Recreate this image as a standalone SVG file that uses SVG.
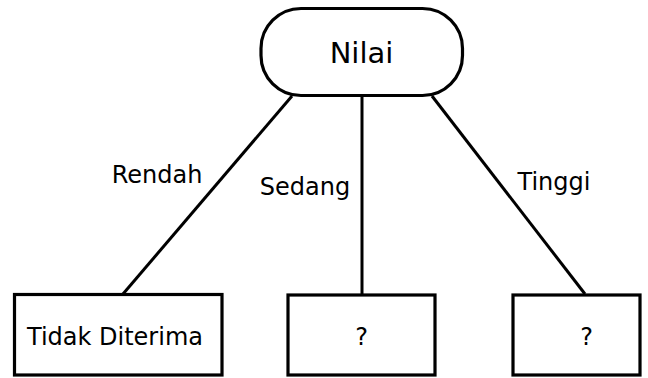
<svg xmlns="http://www.w3.org/2000/svg" width="648" height="378" viewBox="0 0 648 378">
<style>
.shape{fill:#fff;stroke:#000;stroke-width:3.2}
.edge{stroke:#000;stroke-width:3;fill:none}
text{font-family:"DejaVu Sans","Liberation Sans",sans-serif;fill:#000;text-anchor:middle}
.lbl{font-size:24px}
</style>
<rect width="648" height="378" fill="#fff"/>
<g id="connectors">
<line class="edge" x1="292" y1="96" x2="123" y2="294"/>
<line class="edge" x1="362" y1="96" x2="362" y2="294"/>
<line class="edge" x1="432" y1="96" x2="585" y2="294"/>
<text class="lbl" x="157" y="183">Rendah</text>
<text class="lbl" x="305" y="195">Sedang</text>
<text class="lbl" x="554" y="190">Tinggi</text>
</g>
<g id="nilai">
<rect class="shape" x="261" y="8.5" width="201.5" height="87" rx="40" ry="40"/>
<text x="361.5" y="63" font-size="29">Nilai</text>
</g>
<g id="rendah">
<rect class="shape" x="14.5" y="294.5" width="207.5" height="80.5"/>
<text class="lbl" x="115" y="345">Tidak Diterima</text>
</g>
<g id="sedang">
<rect class="shape" x="288" y="295" width="147" height="80"/>
<text class="lbl" x="361.5" y="345">?</text>
</g>
<g id="tinggi">
<rect class="shape" x="513" y="295" width="127" height="80"/>
<text class="lbl" x="586.5" y="345">?</text>
</g>
</svg>
